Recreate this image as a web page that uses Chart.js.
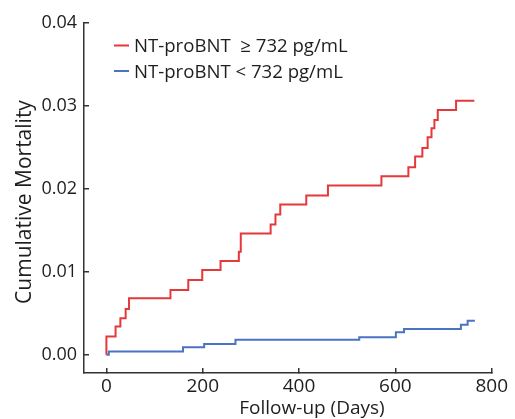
<!DOCTYPE html>
<html>
<head>
<meta charset="utf-8">
<script src="https://cdn.jsdelivr.net/npm/chart.js@4.4.1/dist/chart.umd.min.js"></script>
<style>
  html, body { margin: 0; padding: 0; background: #fff; }
  #wrap { width: 515px; height: 419px; }
</style>
</head>
<body>
<div id="wrap"><canvas id="kmChart"></canvas></div>
<script>
// Kaplan-Meier style cumulative mortality
const highLabel = "NT-proBNT  \u2265 732 pg/mL";
const highDays = [0, 0, 19, 29, 40, 47, 133, 170, 199, 237, 275, 279, 341, 351, 361, 415, 460, 571, 627, 641, 656, 667, 675, 681, 688, 726, 764];
const highMort = [0, 0.0022, 0.0034, 0.0044, 0.0055, 0.0068, 0.0078, 0.0090, 0.0102, 0.0113, 0.0124, 0.0146, 0.0157, 0.0169, 0.0181, 0.0192, 0.0204, 0.0215, 0.0226, 0.0239, 0.0249, 0.0262, 0.0273, 0.0283, 0.0295, 0.0306, 0.0306];

const lowLabel = "NT-proBNT < 732 pg/mL";
const lowDays = [0, 5, 159, 203, 268, 525, 601, 618, 736, 750, 765];
const lowMort = [0, 0.0004, 0.0009, 0.0013, 0.0018, 0.0021, 0.0027, 0.0031, 0.0036, 0.0041, 0.0041];

const xTicks = [0, 200, 400, 600, 800];
const yTicks = [0, 0.01, 0.02, 0.03, 0.04];

const xTitle = "Follow-up (Days)";
const yTitle = "Cumulative Mortality";

const RED = "#e5383b";
const BLUE = "#4a73c1";
const AXIS = "#333333";
const TEXT = "#1e1e1e";
const FONT = "'Open Sans', 'DejaVu Sans', sans-serif";

function toPoints(xs, ys) {
  return xs.map((x, i) => ({ x: x, y: ys[i] }));
}

// titles + legend drawn on the canvas
const decorPlugin = {
  id: "decor",
  afterDraw(chart) {
    const ctx = chart.ctx;
    ctx.save();
    ctx.fillStyle = TEXT;

    ctx.font = "19px " + FONT;
    ctx.textAlign = "center";
    ctx.textBaseline = "middle";
    ctx.fillText(xTitle, 312, 409);

    ctx.translate(25, 202);
    ctx.rotate(-Math.PI / 2);
    ctx.font = "21px " + FONT;
    ctx.fillText(yTitle, 0, 0);
    ctx.restore();

    ctx.save();
    const rows = [
      { label: highLabel, color: RED, y: 45.5 },
      { label: lowLabel, color: BLUE, y: 71 }
    ];
    ctx.font = "18.6px " + FONT;
    ctx.textAlign = "left";
    ctx.textBaseline = "alphabetic";
    rows.forEach(r => {
      ctx.strokeStyle = r.color;
      ctx.lineWidth = 2;
      ctx.beginPath();
      ctx.moveTo(114, r.y);
      ctx.lineTo(129, r.y);
      ctx.stroke();
      ctx.fillStyle = TEXT;
      ctx.fillText(r.label, 134, r.y + 6.5);
    });
    ctx.restore();
  }
};

const ctx = document.getElementById("kmChart").getContext("2d");

new Chart(ctx, {
  type: "line",
  data: {
    datasets: [
      {
        label: highLabel,
        data: toPoints(highDays, highMort),
        borderColor: RED,
        borderWidth: 2,
        stepped: true,
        pointRadius: 0,
        fill: false
      },
      {
        label: lowLabel,
        data: toPoints(lowDays, lowMort),
        borderColor: BLUE,
        borderWidth: 2,
        stepped: true,
        pointRadius: 0,
        fill: false
      }
    ]
  },
  options: {
    responsive: true,
    maintainAspectRatio: false,
    animation: false,
    layout: { padding: { top: 20, right: 23, left: 0, bottom: 0 } },
    plugins: {
      legend: { display: false },
      tooltip: { enabled: false }
    },
    scales: {
      x: {
        type: "linear",
        min: -46.5,
        max: 800,
        afterBuildTicks: s => { s.ticks = xTicks.map(v => ({ value: v })); },
        afterFit: s => { s.height = 46; },
        grid: { drawOnChartArea: false, tickLength: -5, color: AXIS, lineWidth: 1.5 },
        border: { color: AXIS, width: 1.5 },
        ticks: {
          color: TEXT,
          padding: 7,
          maxRotation: 0,
          font: { family: FONT, size: 19 }
        }
      },
      y: {
        min: -0.0022,
        max: 0.04,
        afterBuildTicks: s => { s.ticks = yTicks.map(v => ({ value: v })); },
        afterFit: s => { s.width = 84; },
        grid: { drawOnChartArea: false, tickLength: -5, color: AXIS, lineWidth: 1.5 },
        border: { color: AXIS, width: 1.5 },
        ticks: {
          color: TEXT,
          padding: 12,
          font: { family: FONT, size: 18 },
          callback: v => v.toFixed(2)
        }
      }
    }
  },
  plugins: [decorPlugin]
});
</script>
</body>
</html>
